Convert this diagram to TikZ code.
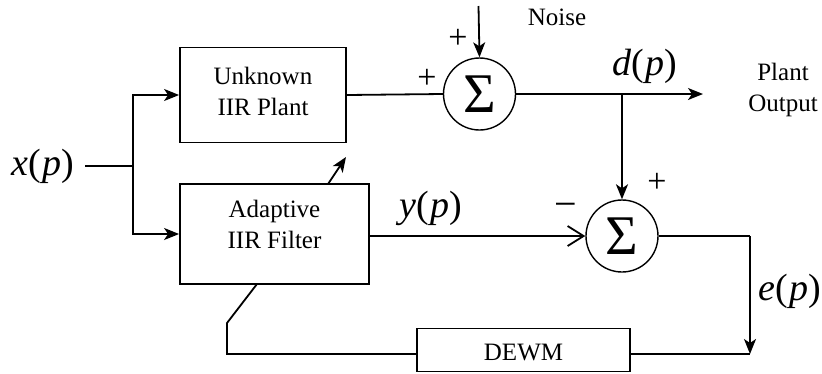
\documentclass[tikz,border=0pt]{standalone}
\usepackage{fontspec}
\setmainfont{Liberation Serif}
\newfontfamily\tms{Liberation Serif}
\newfontfamily\tmsi{Liberation Serif Italic}
\usetikzlibrary{arrows.meta}
\begin{document}
\begin{tikzpicture}[x=1pt,y=-1pt,
  blk/.style={draw, line width=1.8pt, inner sep=0pt},
  txt/.style={font=\tms\fontsize{25}{31}\selectfont, align=center, inner sep=0pt},
  mth/.style={font=\tms\fontsize{38}{38}\selectfont, inner sep=0pt},
  sgn/.style={font=\tms\fontsize{34}{34}\selectfont, inner sep=0pt},
  sumnode/.style={circle, draw, line width=1.4pt, minimum size=72pt, inner sep=0pt, font=\tms\fontsize{56}{56}\selectfont},
  wire/.style={line width=1.8pt},
  arr/.style={wire, -{Stealth[length=15pt,width=12pt,inset=4pt]}},
  oarr/.style={wire, -{Straight Barb[length=16pt,width=20pt]}}
]
\useasboundingbox (0,0) rectangle (822,373);

% blocks
\node[blk, minimum width=166pt, minimum height=95pt] (plant) at (263,95) {};
\node[txt] (plantlbl) at (263,91) {Unknown\\IIR Plant};
\node[blk, minimum width=189pt, minimum height=100pt] (adapt) at (274.5,234) {};
\node[txt] (adaptlbl) at (274.5,224) {Adaptive\\IIR Filter};
\node[blk, minimum width=213pt, minimum height=43pt] (dewm) at (523.5,350) {};
\node[txt] (dewmlbl) at (523.5,352) {DEWM};
\node[sumnode] (sum1) at (479.5,94) {Σ};
\node[sumnode] (sum2) at (622,236) {Σ};

% labels
\node[mth] (xlbl) at (43,166) {{\tmsi x}(\kern1pt{\tmsi p})};
\node[mth] (dlbl) at (645,66) {{\tmsi d}(\kern1pt{\tmsi p})};
\node[mth] (ylbl) at (431,208) {{\tmsi y}(\kern1pt{\tmsi p})};
\node[mth] (elbl) at (790,291) {{\tmsi e}(\kern1pt{\tmsi p})};
\node[txt] (noise) at (557,17) {Noise};
\node[txt] (pout) at (783,90) {Plant\\Output};
\node[sgn] (p1) at (427,79) {+};
\node[sgn] (p2) at (458,39) {+};
\node[sgn] (p3) at (657,183) {+};
\node[font=\tms\fontsize{40}{40}\selectfont, inner sep=0pt] (m1) at (566,210) {−};

% coordinates
\coordinate (xin) at (85,166);
\coordinate (split) at (133,166);
\coordinate (ntop) at (478.5,6);
\coordinate (pout_end) at (703,94);
\coordinate (br) at (622,94);
\coordinate (ecol) at (750,236);
\coordinate (ecorner) at (750,354);
\coordinate (fb1) at (227,354);
\coordinate (fb2) at (227,323);
\coordinate (fb3) at (257,284);
\coordinate (adtail) at (328,184);
\coordinate (adtip) at (346,157);

% connectors
\draw[wire] (xin) -- (split);
\draw[arr] (split) |- (plant.west);
\draw[arr] (split) |- (adapt.west);
\draw[wire] (plant.east) -- (sum1.west);
\draw[arr] (ntop) -- (sum1.north);
\draw[arr] (sum1.east) -- (pout_end);
\draw[arr] (br) -- (sum2.north);
\draw[oarr] (adapt.east |- sum2.west) -- (sum2.west);
\draw[wire] (sum2.east) -- (ecol);
\draw[arr] (ecol) -- (ecorner);
\draw[wire] (dewm.east |- ecorner) -- (ecorner);
\draw[wire] (dewm.west |- fb1) -- (fb1) -- (fb2) -- (fb3);
\draw[arr] (adtail) -- (adtip);
\end{tikzpicture}
\end{document}
